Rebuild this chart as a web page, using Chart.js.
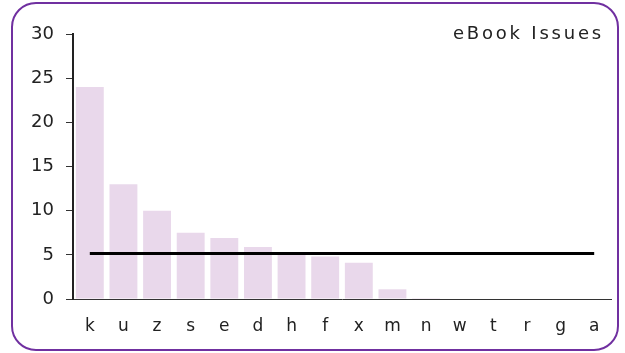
<!DOCTYPE html>
<html>
<head>
<meta charset="utf-8">
<script src="https://cdn.jsdelivr.net/npm/chart.js@4"></script>
<style>
  html, body { margin: 0; padding: 0; background: #fff; }
  #wrap { position: relative; width: 625px; height: 353px; }
</style>
</head>
<body>
<div id="wrap"><canvas id="chart"></canvas></div>
<script>
const categories = ['k', 'u', 'z', 's', 'e', 'd', 'h', 'f', 'x', 'm', 'n', 'w', 't', 'r', 'g', 'a'];
const issueCounts = [24, 13, 10, 7.5, 6.9, 5.9, 5.2, 4.8, 4.1, 1.1, 0.1, 0, 0, 0, 0, 0];
const yTicks = [0, 5, 10, 15, 20, 25, 30];
const chartTitle = 'eBook Issues';

// average line across every category
const avg = issueCounts.reduce((s, v) => s + v, 0) / issueCounts.length;
const avgLine = categories.map(() => avg);

const fontFamily = '"DejaVu Sans", sans-serif';

// rounded purple frame + title drawn on the canvas
const framePlugin = {
  id: 'frame',
  afterDraw(chart) {
    const ctx = chart.ctx;
    ctx.save();
    ctx.strokeStyle = '#7030A0';
    ctx.lineWidth = 2;
    ctx.beginPath();
    ctx.roundRect(12, 3, 606, 347, 24);
    ctx.stroke();
    ctx.fillStyle = '#222';
    ctx.font = '18px ' + fontFamily;
    ctx.letterSpacing = '2.8px';
    ctx.textAlign = 'right';
    ctx.textBaseline = 'middle';
    ctx.fillText(chartTitle, 604, 34);
    ctx.restore();
  }
};

new Chart(document.getElementById('chart'), {
  data: {
    labels: categories,
    datasets: [
      {
        type: 'line',
        label: 'Average',
        data: avgLine,
        borderColor: '#000',
        borderWidth: 3,
        pointRadius: 0,
        fill: false,
        order: 0
      },
      {
        type: 'bar',
        label: 'Issues',
        data: issueCounts,
        backgroundColor: '#E9D8EB',
        barPercentage: 0.83,
        categoryPercentage: 1,
        order: 1
      }
    ]
  },
  options: {
    responsive: true,
    maintainAspectRatio: false,
    animation: false,
    layout: { padding: { top: 34, right: 14, bottom: 0, left: 0 } },
    plugins: {
      legend: { display: false },
      tooltip: { enabled: false }
    },
    scales: {
      x: {
        offset: true,
        afterFit(scale) {
          scale.height = 54;
        },
        grid: { display: true, drawOnChartArea: false, drawTicks: false },
        border: { display: true, color: '#333', width: 1 },
        ticks: { color: '#222', padding: 17, font: { family: fontFamily, size: 17 } }
      },
      y: {
        min: 0,
        max: 30,
        afterBuildTicks(scale) {
          scale.ticks = yTicks.map(v => ({ value: v }));
        },
        afterFit(scale) {
          scale.width = 73;
        },
        grid: { drawOnChartArea: false, drawTicks: true, tickLength: 7, color: '#333' },
        border: { display: true, color: '#222', width: 2 },
        ticks: { color: '#222', padding: 12, font: { family: fontFamily, size: 18 } }
      }
    }
  },
  plugins: [framePlugin]
});
</script>
</body>
</html>
